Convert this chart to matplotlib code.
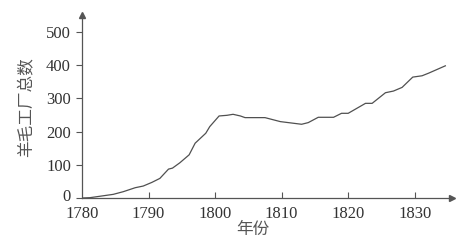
import matplotlib
matplotlib.use("Agg")
import matplotlib.pyplot as plt
import matplotlib.transforms as mtransforms

years = [1780, 1781.2, 1784.7, 1786.2, 1788.0, 1789.2, 1790.5, 1791.7, 1793.0, 1793.6,
         1794.7, 1796.1, 1797.0, 1798.6, 1799.2, 1800.6, 1801.8, 1802.7, 1803.8,
         1804.5, 1807.5, 1809.8, 1813.0, 1814.0, 1815.5, 1817.8, 1819.0, 1820.0,
         1822.6, 1823.6, 1825.6, 1826.8, 1828.1, 1829.7, 1831.1, 1832.1, 1834.6]
mills = [0, 1, 11, 19, 31, 36, 47, 59, 87, 90,
         106, 130, 165, 195, 215, 247, 249, 252, 247,
         242, 242, 230, 222, 227, 243, 243, 255, 255,
         285, 285, 317, 322, 333, 364, 368, 376, 398]
xticks = [1780, 1790, 1800, 1810, 1820, 1830]
yticks = [0, 100, 200, 300, 400, 500]

fig = plt.figure(figsize=(4.58, 2.41), dpi=100)
ax = fig.add_axes([82/458, 43/241, 370/458, 183/241])
ax.plot(years, mills, color="#505050", lw=0.9)
ax.set_xlim(1780, 1835.6)
ax.set_ylim(0, 551)
for s in ["top", "right"]:
    ax.spines[s].set_visible(False)
for s in ["left", "bottom"]:
    ax.spines[s].set_color("#555555")
    ax.spines[s].set_linewidth(0.9)
ax.plot(0, 1, marker="^", color="#555555", ms=5, transform=ax.transAxes, clip_on=False)
ax.plot(1, 0, marker=">", color="#555555", ms=5, transform=ax.transAxes, clip_on=False)

ax.set_xticks(xticks)
ax.set_yticks(yticks)
ax.tick_params(axis="x", direction="in", length=4, width=0.8, color="#555555", pad=6,
               labelsize=12, labelcolor="#333333")
ax.tick_params(axis="y", direction="out", length=4, width=0.8, color="#555555", pad=4,
               labelsize=12, labelcolor="#333333")
for lab in ax.get_xticklabels() + ax.get_yticklabels():
    lab.set_fontfamily("Liberation Serif")
# hide the 1780 tick mark at the origin
ax.xaxis.get_major_ticks()[0].tick1line.set_visible(False)
# nudge the "0" label up a little so it sits clear of "1780"
zero_lab = ax.yaxis.get_major_ticks()[0].label1
zero_lab.set_transform(zero_lab.get_transform() +
                       mtransforms.ScaledTranslation(0, 2.5/72, fig.dpi_scale_trans))

ax.set_ylabel("羊毛工厂总数", family=["Noto Sans CJK SC", "DejaVu Sans"], fontsize=12,
              color="#555555", fontweight="light")
ax.yaxis.set_label_coords(-0.125, 0.495)
ax.set_xlabel("年份", family=["Noto Sans CJK SC", "DejaVu Sans"], fontsize=12,
              color="#555555", fontweight="light")
ax.xaxis.set_label_coords(0.462, -0.125)

fig.savefig("out.png", dpi=100)
